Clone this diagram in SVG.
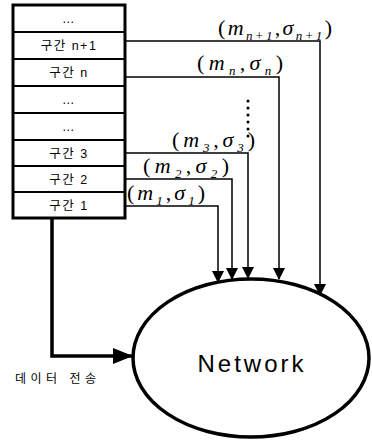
<svg xmlns="http://www.w3.org/2000/svg" width="372" height="440" viewBox="0 0 372 440">
<style>
.row{font-family:"Liberation Sans","Noto Sans CJK KR",sans-serif;font-size:12.5px;text-anchor:middle;fill:#000;letter-spacing:1.5px}
.lbl{font-family:"Liberation Serif",serif;font-size:22px;fill:#000}
.i{font-style:italic}
.sub{font-size:13px;font-style:italic}
.ln{stroke:#000;stroke-width:1.5;fill:none}
.thick{stroke:#000;stroke-width:3.5;fill:none}
</style>
<defs>
<marker id="ah2" markerWidth="20" markerHeight="16" refX="19" refY="8" orient="auto" markerUnits="userSpaceOnUse" viewBox="0 0 20 16">
<path d="M0,0 L20,8 L0,16 Z" fill="#000"/>
</marker>
<marker id="av" markerWidth="12" markerHeight="12" refX="11" refY="6" orient="auto" markerUnits="userSpaceOnUse" viewBox="0 0 12 12">
<path d="M0,0 L12,6 L0,12 Z" fill="#000"/>
</marker>
</defs>
<g id="table">
<rect x="13" y="5" width="112" height="213" fill="#fff" stroke="#000" stroke-width="3"/>
<g stroke="#000" stroke-width="2">
<line x1="13" y1="32" x2="125" y2="32"/>
<line x1="13" y1="59" x2="125" y2="59"/>
<line x1="13" y1="86" x2="125" y2="86"/>
<line x1="13" y1="113" x2="125" y2="113"/>
<line x1="13" y1="140" x2="125" y2="140"/>
<line x1="13" y1="166" x2="125" y2="166"/>
<line x1="13" y1="192" x2="125" y2="192"/>
</g>
<text class="row" x="69" y="23">…</text>
<text class="row" x="69" y="50">구간 n+1</text>
<text class="row" x="69" y="77">구간 n</text>
<text class="row" x="69" y="104">…</text>
<text class="row" x="69" y="131">…</text>
<text class="row" x="69" y="158">구간 3</text>
<text class="row" x="69" y="184">구간 2</text>
<text class="row" x="69" y="210">구간 1</text>
</g>
<g id="network">
<ellipse cx="251" cy="358" rx="118" ry="79" fill="#fff" stroke="#000" stroke-width="3.5"/>
<text x="252" y="372" font-family="Liberation Sans, sans-serif" font-size="24" letter-spacing="3" text-anchor="middle">Network</text>
</g>
<g id="connectors">
<polyline class="ln" points="125,206 218,206 218,282" marker-end="url(#av)"/>
<polyline class="ln" points="125,179 232,179 232,279" marker-end="url(#av)"/>
<polyline class="ln" points="125,153 248,153 248,278" marker-end="url(#av)"/>
<polyline class="ln" points="125,77 279,77 279,279" marker-end="url(#av)"/>
<polyline class="ln" points="125,41 320,41 320,295" marker-end="url(#av)"/>
<polyline class="thick" points="52,218 52,356 132,356" marker-end="url(#ah2)"/>
<line x1="248" y1="101" x2="248" y2="143" stroke="#000" stroke-width="3" stroke-dasharray="0 7" stroke-linecap="round"/>
</g>
<g id="labels">
<text class="lbl" x="218" y="35" textLength="114" lengthAdjust="spacing">(<tspan class="i">m</tspan><tspan class="sub" dy="5">n+1</tspan><tspan dy="-5">,</tspan><tspan class="i">σ</tspan><tspan class="sub" dy="5">n+1</tspan><tspan dy="-5">)</tspan></text>
<text class="lbl" x="197" y="70" textLength="86" lengthAdjust="spacing">(<tspan class="i">m</tspan><tspan class="sub" dy="5">n</tspan><tspan dy="-5">,</tspan><tspan class="i">σ</tspan><tspan class="sub" dy="5">n</tspan><tspan dy="-5">)</tspan></text>
<text class="lbl" x="172" y="147" textLength="83" lengthAdjust="spacing">(<tspan class="i">m</tspan><tspan class="sub" dy="5">3</tspan><tspan dy="-5">,</tspan><tspan class="i">σ</tspan><tspan class="sub" dy="5">3</tspan><tspan dy="-5">)</tspan></text>
<text class="lbl" x="143" y="173" textLength="86" lengthAdjust="spacing">(<tspan class="i">m</tspan><tspan class="sub" dy="5">2</tspan><tspan dy="-5">,</tspan><tspan class="i">σ</tspan><tspan class="sub" dy="5">2</tspan><tspan dy="-5">)</tspan></text>
<text class="lbl" x="127" y="200" textLength="78" lengthAdjust="spacing">(<tspan class="i">m</tspan><tspan class="sub" dy="5">1</tspan><tspan dy="-5">,</tspan><tspan class="i">σ</tspan><tspan class="sub" dy="5">1</tspan><tspan dy="-5">)</tspan></text>
<text x="15" y="383" font-family="Liberation Sans, Noto Sans CJK KR, sans-serif" font-size="12" letter-spacing="4.5">데이터 전송</text>
</g>
</svg>
